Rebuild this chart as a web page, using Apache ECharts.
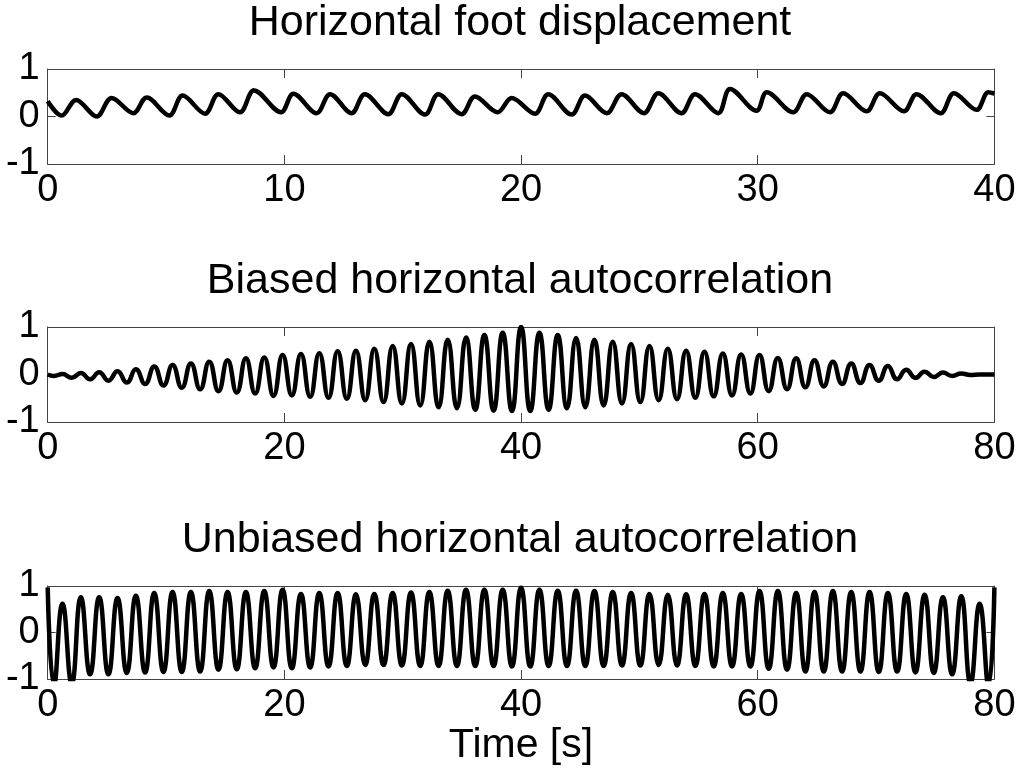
<!DOCTYPE html>
<html>
<head>
<meta charset="utf-8">
<title>Foot displacement autocorrelation</title>
<script src="https://cdn.jsdelivr.net/npm/echarts@6/dist/echarts.min.js"></script>
<style>
  html, body { margin: 0; padding: 0; background: #fff; }
  #chart { width: 1024px; height: 775px; }
</style>
</head>
<body>
<div id="chart"></div>
<script>
// horizontal foot displacement: times of the turning points [s] and their values
const footTimes = [
  0, 0.59, 1.2, 2.07, 2.7, 3.62, 4.18, 5.14, 5.7, 6.65,
  7.21, 8.12, 8.72, 9.86, 10.38, 11.36, 11.93, 12.84, 13.4, 14.39,
  14.96, 15.94, 16.5, 17.49, 18.05, 19.01, 19.6, 20.59, 21.15, 22.14,
  22.7, 23.62, 24.25, 25.19, 25.8, 26.78, 27.35, 28.33, 28.83, 29.95,
  30.38, 31.5, 32.07, 33.05, 33.61, 34.6, 35.16, 36.18, 36.71, 37.73,
  38.29, 39.25, 39.74, 40
];
const footValues = [
  0.32, 0.02, 0.35, 0.0, 0.39, 0.07, 0.40, 0.02, 0.44, 0.06,
  0.47, 0.09, 0.55, 0.09, 0.48, 0.07, 0.47, 0.07, 0.47, 0.05,
  0.47, 0.04, 0.47, 0.05, 0.42, 0.09, 0.39, 0.06, 0.47, 0.04,
  0.44, 0.07, 0.47, 0.07, 0.49, 0.07, 0.47, 0.07, 0.58, 0.12,
  0.51, 0.09, 0.47, 0.09, 0.49, 0.11, 0.49, 0.11, 0.47, 0.07,
  0.49, 0.14, 0.51, 0.48
];

// autocorrelation lags [s] at the turning points (troughs / peaks)
const lagTimes = [
  0, 0.53, 1.25, 2.03, 2.8, 3.58, 4.35, 5.13, 5.9, 6.68,
  7.45, 8.23, 9.0, 9.78, 10.55, 11.33, 12.1, 12.88, 13.65, 14.43,
  15.2, 15.98, 16.75, 17.53, 18.3, 19.08, 19.85, 20.63, 21.4, 22.18,
  22.95, 23.73, 24.5, 25.28, 26.05, 26.83, 27.6, 28.38, 29.15, 29.93,
  30.7, 31.48, 32.25, 33.03, 33.8, 34.58, 35.35, 36.13, 36.9, 37.68,
  38.45, 39.23, 40.0, 40.78, 41.55, 42.33, 43.1, 43.88, 44.65, 45.43,
  46.2, 46.98, 47.75, 48.53, 49.3, 50.08, 50.85, 51.63, 52.4, 53.18,
  53.95, 54.73, 55.5, 56.28, 57.05, 57.83, 58.6, 59.38, 60.15, 60.93,
  61.7, 62.48, 63.25, 64.03, 64.8, 65.58, 66.35, 67.13, 67.9, 68.68,
  69.45, 70.23, 71.0, 71.78, 72.55, 73.33, 74.1, 74.88, 75.65, 76.43,
  77.2, 77.98, 78.75, 79.5, 80
];
const biasedValues = [
  0, -0.03, 0.01, -0.07, 0.03, -0.10, 0.05, -0.13, 0.07, -0.17,
  0.11, -0.20, 0.17, -0.23, 0.20, -0.28, 0.23, -0.31, 0.27, -0.35,
  0.30, -0.38, 0.34, -0.40, 0.36, -0.45, 0.41, -0.44, 0.43, -0.47,
  0.45, -0.49, 0.49, -0.51, 0.50, -0.54, 0.54, -0.58, 0.60, -0.61,
  0.64, -0.65, 0.69, -0.69, 0.73, -0.71, 0.78, -0.74, 0.83, -0.76,
  0.88, -0.77, 1.0, -0.77, 0.88, -0.74, 0.83, -0.71, 0.77, -0.69,
  0.73, -0.65, 0.69, -0.61, 0.64, -0.58, 0.60, -0.54, 0.54, -0.52,
  0.50, -0.49, 0.48, -0.46, 0.44, -0.44, 0.42, -0.40, 0.41, -0.35,
  0.35, -0.31, 0.34, -0.27, 0.30, -0.25, 0.27, -0.20, 0.23, -0.18,
  0.20, -0.13, 0.18, -0.10, 0.10, -0.07, 0.06, -0.05, 0.04, -0.03,
  0.02, -0.01, 0.0, 0.0, 0.0
];
const unbiasedValues = [
  0.97, -1.15, 0.62, -1.1, 0.76, -0.90, 0.76, -0.90, 0.74, -0.87,
  0.79, -0.86, 0.85, -0.85, 0.87, -0.85, 0.87, -0.84, 0.89, -0.80,
  0.87, -0.79, 0.87, -0.77, 0.89, -0.75, 0.92, -0.77, 0.83, -0.75,
  0.85, -0.73, 0.85, -0.72, 0.82, -0.70, 0.83, -0.70, 0.85, -0.71,
  0.86, -0.72, 0.87, -0.72, 0.90, -0.72, 0.92, -0.72, 0.92, -0.72,
  0.92, -0.73, 0.96, -0.73, 0.92, -0.72, 0.90, -0.72, 0.90, -0.72,
  0.89, -0.72, 0.87, -0.71, 0.85, -0.71, 0.83, -0.70, 0.81, -0.71,
  0.82, -0.72, 0.83, -0.73, 0.85, -0.73, 0.83, -0.73, 0.89, -0.78,
  0.89, -0.80, 0.85, -0.84, 0.87, -0.84, 0.89, -0.84, 0.87, -0.84,
  0.87, -0.85, 0.85, -0.84, 0.83, -0.86, 0.81, -0.87, 0.76, -0.90,
  0.78, -1.1, 0.62, -1.15, 0.97
];

const titles = [
  'Horizontal foot displacement',
  'Biased horizontal autocorrelation',
  'Unbiased horizontal autocorrelation'
];
const xRanges = [[0, 40, 10], [0, 80, 20], [0, 80, 20]];
const yTicks = [-1, 0, 1];

const FONT = '"Liberation Sans", Arial, Helvetica, sans-serif';
const AXIS_COLOR = '#444';

const gridTops = [69, 327, 586];
const gridHeights = [95, 95, 93];
const titleY = [23, 281, 540];

function zip(xs, ys) {
  return xs.map((x, i) => [x, ys[i]]);
}

const seriesData = [
  zip(footTimes, footValues),
  zip(lagTimes, biasedValues),
  zip(lagTimes, unbiasedValues)
];

let grid = [], xAxis = [], yAxis = [], series = [], graphic = [];

for (let i = 0; i < 3; i++) {
  grid.push({
    left: 47.7,
    right: 29.6,
    top: gridTops[i],
    height: gridHeights[i],
    containLabel: false
  });

  let [xmin, xmax, xstep] = xRanges[i];
  // bottom axis with labels, top axis for the box + inner ticks
  ['bottom', 'top'].forEach(pos => {
    xAxis.push({
      type: 'value',
      gridIndex: i,
      position: pos,
      min: xmin,
      max: xmax,
      interval: xstep,
      splitLine: {show: false},
      axisLine: {show: true, onZero: false, lineStyle: {color: AXIS_COLOR, width: 1}},
      axisTick: {show: true, inside: true, length: 9, lineStyle: {color: AXIS_COLOR}},
      axisLabel: {
        show: pos === 'bottom',
        color: '#000',
        fontSize: 38,
        fontFamily: FONT,
        margin: 8
      }
    });
  });
  ['left', 'right'].forEach(pos => {
    yAxis.push({
      type: 'value',
      gridIndex: i,
      position: pos,
      min: yTicks[0],
      max: yTicks[2],
      interval: 1,
      splitLine: {show: false},
      axisLine: {show: true, onZero: false, lineStyle: {color: AXIS_COLOR, width: 1}},
      axisTick: {show: true, inside: true, length: 8, lineStyle: {color: AXIS_COLOR}},
      axisLabel: {
        show: pos === 'left',
        color: '#000',
        fontSize: 38,
        fontFamily: FONT,
        margin: 8
      }
    });
  });

  series.push({
    type: 'line',
    xAxisIndex: i * 2,
    yAxisIndex: i * 2,
    data: seriesData[i],
    showSymbol: false,
    symbol: 'none',
    smooth: i === 0 ? 0.35 : 0.5,
    clip: true,
    lineStyle: {color: '#000', width: 4.5}
  });

  graphic.push({
    type: 'text',
    x: 520,
    y: titleY[i],
    style: {
      text: titles[i],
      fontSize: 43,
      fontFamily: FONT,
      fill: '#000',
      align: 'center',
      verticalAlign: 'middle'
    }
  });
}

graphic.push({
  type: 'text',
  x: 521,
  y: 746,
  style: {
    text: 'Time [s]',
    fontSize: 41,
    fontFamily: FONT,
    fill: '#000',
    align: 'center',
    verticalAlign: 'middle'
  }
});

const chart = echarts.init(document.getElementById('chart'));
chart.setOption({
  animation: false,
  backgroundColor: '#fff',
  grid: grid,
  xAxis: xAxis,
  yAxis: yAxis,
  series: series,
  graphic: graphic
});
</script>
</body>
</html>
